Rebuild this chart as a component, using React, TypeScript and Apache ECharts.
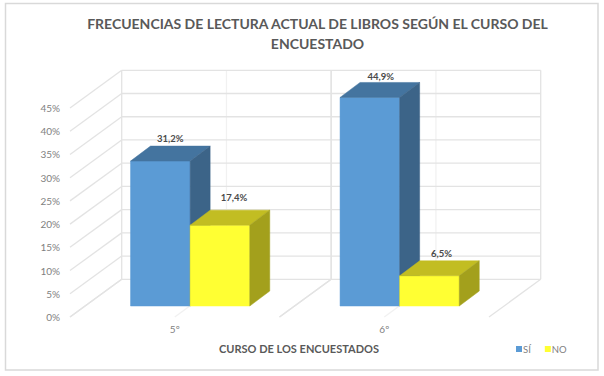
import React, { useEffect, useRef } from "react";
import * as echarts from "echarts";

const titleText = "FRECUENCIAS DE LECTURA ACTUAL DE LIBROS SEGÚN EL CURSO DEL\nENCUESTADO";
const axisTitle = "CURSO DE LOS ENCUESTADOS";
const categories = ["5º", "6º"];
const siValues = [31.2, 44.9];
const noValues = [17.4, 6.5];
const yTicks = [0, 5, 10, 15, 20, 25, 30, 35, 40, 45];

const FONT = "Lato, Carlito, 'Open Sans', sans-serif";
const WALL = { dx: 51.7, dy: 37.7 };
const BAR_SHIFT = { dx: 15.4, dy: 11 };
const BAR_DEPTH = { dx: 20, dy: 15 };
const BAR_FRACTION = 0.2845;
const GRID_COLOR = "#e3e3e3";
const GRID_MINOR = "#f1f1f1";

const line = (x1: number, y1: number, x2: number, y2: number, stroke: string, lineWidth = 1.3) => ({
  type: "line",
  shape: { x1, y1, x2, y2 },
  style: { stroke, lineWidth, fill: "none" },
});

const wallLines = (params: any, api: any) => {
  const [x, y] = api.coord([0, api.value(1)]);
  const left = x - api.size([1, 0])[0] / 2;
  const right = left + api.size([1, 0])[0] * categories.length;
  return {
    type: "group",
    children: [
      line(left, y, left + WALL.dx, y - WALL.dy, GRID_COLOR),
      line(left + WALL.dx, y - WALL.dy, right + WALL.dx, y - WALL.dy, GRID_COLOR),
    ],
  };
};

const wallColumns = (params: any, api: any) => {
  const band = api.size([1, 0])[0];
  const [cx, bottom] = api.coord([api.value(0), 0]);
  const top = api.coord([api.value(0), yTicks[yTicks.length - 1]])[1];
  const children: any[] = [];
  [-0.5, 0, 0.5].forEach((f) => {
    const x = cx + f * band;
    const c = f === 0 ? GRID_MINOR : GRID_COLOR;
    children.push(line(x + WALL.dx, bottom - WALL.dy, x + WALL.dx, top - WALL.dy, c));
    children.push(line(x, bottom, x + WALL.dx, bottom - WALL.dy, c));
  });
  return { type: "group", children };
};

const LABEL_NUDGE: Record<string, number[][]> = {
  SÍ: [[0, -8], [1, -6]],
  NO: [[4, -13], [2, -7]],
};

const box3d = (slot: number, front: string, topC: string, side: string, name: string) => (params: any, api: any) => {
  const i = api.value(0);
  const v = api.value(1);
  const band = api.size([1, 0])[0];
  const w = band * BAR_FRACTION;
  const [cx, y0] = api.coord([i, 0]);
  const y1 = api.coord([i, v])[1];
  const xl = cx + BAR_SHIFT.dx + slot * w;
  const xr = xl + w;
  const b = y0 - BAR_SHIFT.dy;
  const t = y1 - BAR_SHIFT.dy;
  const { dx, dy } = BAR_DEPTH;
  const poly = (points: number[][], fill: string) => ({
    type: "polygon",
    shape: { points },
    style: { fill, stroke: fill, lineWidth: 0.5 },
  });
  const [nx, ny] = LABEL_NUDGE[name][params.dataIndex];
  return {
    type: "group",
    children: [
      poly([[xl, b], [xr, b], [xr, t], [xl, t]], front),
      poly([[xl, t], [xr, t], [xr + dx, t - dy], [xl + dx, t - dy]], topC),
      poly([[xr, b], [xr + dx, b - dy], [xr + dx, t - dy], [xr, t]], side),
      {
        type: "text",
        style: {
          text: v.toFixed(1).replace(".", ",") + "%",
          x: (xl + xr) / 2 + dx / 2 + nx,
          y: t - dy + ny,
          align: "center",
          verticalAlign: "middle",
          fill: "#4a4a4a",
          font: `bold 9.5px ${FONT}`,
        },
      },
    ],
  };
};

export default function App() {
  const ref = useRef<HTMLDivElement>(null);
  useEffect(() => {
    const chart = echarts.init(ref.current!, undefined, { renderer: "svg" });
    chart.setOption({
      animation: false,
      backgroundColor: "#ffffff",
      title: {
        text: titleText,
        left: 312.5,
        top: 8,
        textAlign: "center",
        textStyle: { fontFamily: FONT, fontSize: 14, fontWeight: "bold", color: "#595959", lineHeight: 20 },
      },
      legend: {
        data: [
          { name: "SÍ", itemStyle: { color: "#5b9bd5" } },
          { name: "NO", itemStyle: { color: "#ffff33" } },
        ],
        left: 511,
        top: 339,
        icon: "rect",
        itemWidth: 6,
        itemHeight: 6,
        itemGap: 14,
        textStyle: { fontFamily: FONT, fontSize: 9.5, color: "#7f7f7f", padding: [0, 0, 0, -4] },
      },
      grid: { left: 70, top: 108, width: 419, height: 209 },
      xAxis: {
        type: "category",
        data: categories,
        name: axisTitle,
        nameLocation: "middle",
        nameGap: 26,
        nameTextStyle: { fontFamily: FONT, fontSize: 11, fontWeight: "bold", color: "#595959", padding: [0, 0, 0, 39] },
        axisLine: { show: false },
        axisTick: { show: false },
        axisLabel: { fontFamily: FONT, fontSize: 10, color: "#7f7f7f", margin: 7 },
      },
      yAxis: {
        type: "value",
        min: 0,
        max: 45,
        interval: 5,
        axisLine: { show: false },
        axisTick: { show: false },
        splitLine: { show: false },
        axisLabel: { fontFamily: FONT, fontSize: 10, color: "#7f7f7f", margin: 10, formatter: "{value}%" },
      },
      graphic: [
        {
          type: "rect",
          shape: { x: 5.5, y: 3.5, width: 592.5, height: 366.5 },
          style: { fill: "none", stroke: "#d9d9d9", lineWidth: 1.5 },
          silent: true,
        },
      ],
      series: [
        { type: "custom", name: "muro-col", silent: true, clip: false, z: 1, renderItem: wallColumns, encode: { x: 0, y: 1 }, data: categories.map((_, i) => [i, 0]) },
        { type: "custom", name: "muro-fila", silent: true, clip: false, z: 1, renderItem: wallLines, encode: { x: 0, y: 1 }, data: yTicks.map((v) => [0, v]) },
        {
          type: "custom",
          name: "SÍ",
          clip: false,
          z: 2,
          itemStyle: { color: "#5b9bd5" },
          renderItem: box3d(-1, "#5b9bd5", "#44749f", "#3c6488", "SÍ"),
          encode: { x: 0, y: 1 },
          data: siValues.map((v, i) => [i, v]),
        },
        {
          type: "custom",
          name: "NO",
          clip: false,
          z: 3,
          itemStyle: { color: "#ffff33" },
          renderItem: box3d(0, "#ffff33", "#c2bd22", "#a3a01c", "NO"),
          encode: { x: 0, y: 1 },
          data: noValues.map((v, i) => [i, v]),
        },
      ],
    });
    return () => chart.dispose();
  }, []);
  return <div ref={ref} style={{ position: "absolute", left: 0, top: 0, width: 604, height: 376 }} />;
}
